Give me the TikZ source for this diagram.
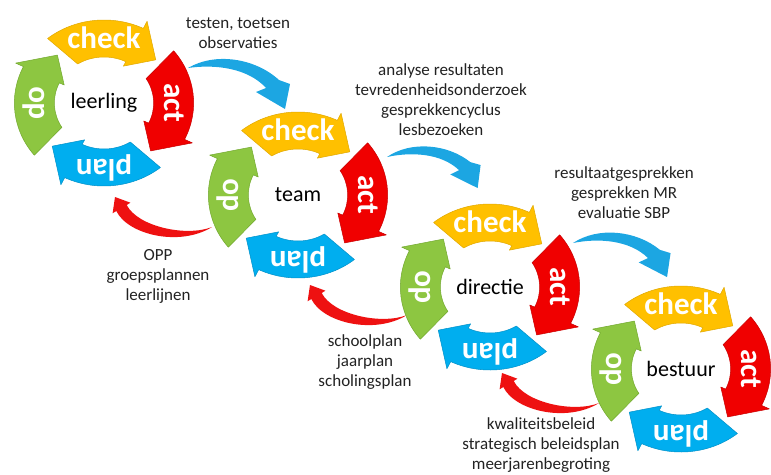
\documentclass[tikz,border=0pt]{standalone}
\usepackage{fontspec}
\setmainfont{Carlito}

\definecolor{chkY}{HTML}{FFC000}
\definecolor{chkYd}{HTML}{E0A800}
\definecolor{actR}{HTML}{F00000}
\definecolor{actRd}{HTML}{C80000}
\definecolor{plnB}{HTML}{00AEEF}
\definecolor{plnBd}{HTML}{0090C8}
\definecolor{doG}{HTML}{8DC641}
\definecolor{doGd}{HTML}{72A82F}
\definecolor{linkB}{HTML}{1CA6E2}
\definecolor{linkR}{HTML}{EE1111}
\definecolor{noteC}{HTML}{222222}

% ring radii (outer, inner, middle of the band)
\newcommand\RingOut{83}
\newcommand\RingIn{46}
\newcommand\RingMid{64.5}

% one curved ring arrow: #1 tail angle, #2 fill, #3 outline
\newcommand\ringarrow[3]{%
  \filldraw[fill=#2, draw=#3, line width=0.5pt, line join=round]
    (#1:\RingOut) arc[start angle=#1, end angle={#1-65}, radius=\RingOut]
    -- ({#1-65}:{\RingOut+8}) -- ({#1-87}:\RingMid)
    -- ({#1-65}:{\RingIn-5}) -- ({#1-65}:\RingIn)
    arc[start angle={#1-65}, end angle={#1-7}, radius=\RingIn] -- cycle;}

% a complete plan-do-check-act cycle around a centre coordinate
\newcommand\pdcacycle[2]{%
  \begin{scope}[shift={(#1)}, xscale=1.08, yscale=-1]
    \ringarrow{129}{chkY}{chkYd}
    \ringarrow{39}{actR}{actRd}
    \ringarrow{-51}{plnB}{plnBd}
    \ringarrow{-141}{doG}{doGd}
  \end{scope}
  \node[ringword] (#1-check) at ([shift={(0,-65)}]#1) {check};
  \node[ringword, rotate=-90] (#1-act) at ([shift={(70,0)}]#1) {act};
  \node[ringword, rotate=180] (#1-plan) at ([shift={(0,65)}]#1) {plan};
  \node[ringword, rotate=90] (#1-do) at ([shift={(-70,0)}]#1) {do};
  \node[centreword] (#1-name) at (#1) {#2};}

\begin{document}
\begin{tikzpicture}[x=1pt, y=-1pt,
  ringword/.style={text=white, font=\fontsize{31}{31}\selectfont\bfseries, inner sep=0pt},
  centreword/.style={text=black, font=\fontsize{22}{22}\selectfont, inner sep=0pt},
  note/.style={text=noteC, font=\fontsize{17}{20}\selectfont, align=center, inner sep=0pt},
  bluearrow/.pic={
    \fill[linkB] (0,0) .. controls (27,-16) and (67,-10) .. (91,12)
      -- (102,16) -- (97,41) -- (68,24) -- (78,20)
      .. controls (60,0) and (27,-4) .. (0,0) -- cycle;},
  redarrow/.pic={
    \fill[linkR] (0,0) .. controls (-25,10) and (-74,0) .. (-85.3,-22)
      -- (-81.6,-24.3) -- (-97,-30) -- (-99.4,-13.7) -- (-95.7,-16)
      .. controls (-84,8) and (-32,20) .. (0,0) -- cycle;}]

\useasboundingbox (0,0) rectangle (771,474);

% cycle centres
\coordinate (c1) at (104,103);
\coordinate (c2) at (298,195);
\coordinate (c3) at (490,287);
\coordinate (c4) at (681,369);

% tails of the links between the cycles
\coordinate (b1) at (188,68);
\coordinate (b2) at (387,157);
\coordinate (b3) at (573,243);
\coordinate (r1) at (212,227);
\coordinate (r2) at (407,315);
\coordinate (r3) at (599,403);

% links: act -> next check (blue), do -> previous plan (red)
\pic at (b1) {bluearrow};
\pic[rotate=4, scale=0.91] at (b2) {bluearrow};
\pic[rotate=3, scale=0.95] at (b3) {bluearrow};
\pic at (r1) {redarrow};
\pic at (r2) {redarrow};
\pic at (r3) {redarrow};

% the four cycles
\pdcacycle{c1}{leerling}
\pdcacycle{c2}{team}
\pdcacycle{c3}{directie}
\pdcacycle{c4}{bestuur}

% notes along the links
\node[note] (n1) at (238,33) {testen, toetsen\\observaties};
\node[note] (n2) at (441,100) {analyse resultaten\\tevredenheidsonderzoek\\gesprekkencyclus\\lesbezoeken};
\node[note] (n3) at (624,193) {resultaatgesprekken\\gesprekken MR\\evaluatie SBP};
\node[note] (n4) at (158,276) {OPP\\groepsplannen\\leerlijnen};
\node[note] (n5) at (365,362) {schoolplan\\jaarplan\\scholingsplan};
\node[note] (n6) at (541,445) {kwaliteitsbeleid\\strategisch beleidsplan\\meerjarenbegroting};
\end{tikzpicture}
\end{document}
